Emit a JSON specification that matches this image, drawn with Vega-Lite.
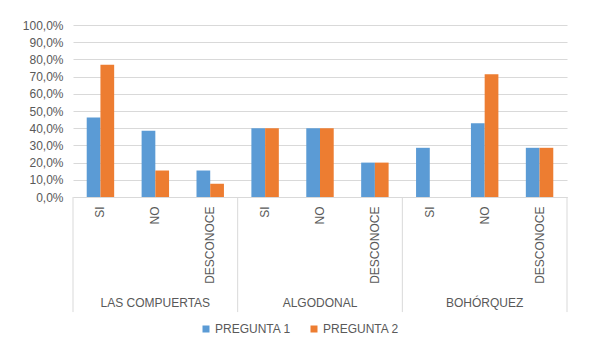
{
  "$schema": "https://vega.github.io/schema/vega-lite/v6.json",
  "width": 494,
  "height": 172,
  "autosize": {"type": "none"},
  "padding": {"left": 73, "top": 25, "right": 26, "bottom": 164},
  "background": "white",
  "config": {"view": {"stroke": null}, "font": "Liberation Sans"},
  "layer": [
    {
      "data": {"values": [
        {"group": "LAS COMPUERTAS", "cat": "LAS COMPUERTAS|SI", "serie": "PREGUNTA 1", "value": 0.462},
        {"group": "LAS COMPUERTAS", "cat": "LAS COMPUERTAS|SI", "serie": "PREGUNTA 2", "value": 0.769},
        {"group": "LAS COMPUERTAS", "cat": "LAS COMPUERTAS|NO", "serie": "PREGUNTA 1", "value": 0.385},
        {"group": "LAS COMPUERTAS", "cat": "LAS COMPUERTAS|NO", "serie": "PREGUNTA 2", "value": 0.154},
        {"group": "LAS COMPUERTAS", "cat": "LAS COMPUERTAS|DESCONOCE", "serie": "PREGUNTA 1", "value": 0.154},
        {"group": "LAS COMPUERTAS", "cat": "LAS COMPUERTAS|DESCONOCE", "serie": "PREGUNTA 2", "value": 0.077},
        {"group": "ALGODONAL", "cat": "ALGODONAL|SI", "serie": "PREGUNTA 1", "value": 0.4},
        {"group": "ALGODONAL", "cat": "ALGODONAL|SI", "serie": "PREGUNTA 2", "value": 0.4},
        {"group": "ALGODONAL", "cat": "ALGODONAL|NO", "serie": "PREGUNTA 1", "value": 0.4},
        {"group": "ALGODONAL", "cat": "ALGODONAL|NO", "serie": "PREGUNTA 2", "value": 0.4},
        {"group": "ALGODONAL", "cat": "ALGODONAL|DESCONOCE", "serie": "PREGUNTA 1", "value": 0.2},
        {"group": "ALGODONAL", "cat": "ALGODONAL|DESCONOCE", "serie": "PREGUNTA 2", "value": 0.2},
        {"group": "BOHÓRQUEZ", "cat": "BOHÓRQUEZ|SI", "serie": "PREGUNTA 1", "value": 0.286},
        {"group": "BOHÓRQUEZ", "cat": "BOHÓRQUEZ|SI", "serie": "PREGUNTA 2", "value": 0},
        {"group": "BOHÓRQUEZ", "cat": "BOHÓRQUEZ|NO", "serie": "PREGUNTA 1", "value": 0.429},
        {"group": "BOHÓRQUEZ", "cat": "BOHÓRQUEZ|NO", "serie": "PREGUNTA 2", "value": 0.714},
        {"group": "BOHÓRQUEZ", "cat": "BOHÓRQUEZ|DESCONOCE", "serie": "PREGUNTA 1", "value": 0.286},
        {"group": "BOHÓRQUEZ", "cat": "BOHÓRQUEZ|DESCONOCE", "serie": "PREGUNTA 2", "value": 0.286}
      ]},
      "mark": {"type": "bar"},
      "encoding": {
        "x": {
          "field": "cat", "type": "nominal", "sort": null,
          "scale": {"domain": ["LAS COMPUERTAS|SI", "LAS COMPUERTAS|NO", "LAS COMPUERTAS|DESCONOCE", "ALGODONAL|SI", "ALGODONAL|NO", "ALGODONAL|DESCONOCE", "BOHÓRQUEZ|SI", "BOHÓRQUEZ|NO", "BOHÓRQUEZ|DESCONOCE"], "paddingInner": 0, "paddingOuter": 0},
          "axis": {"labelExpr": "split(datum.label,'|')[1]", "labelAngle": 270, "labelAlign": "right", "labelBaseline": "middle", "labelPadding": 9, "ticks": false, "domainColor": "#d9d9d9", "labelColor": "#595959", "labelFontSize": 12, "title": null, "grid": false, "labelOverlap": false}
        },
        "xOffset": {"field": "serie", "type": "nominal", "scale": {"paddingInner": 0, "paddingOuter": 1.095}},
        "y": {
          "field": "value", "type": "quantitative",
          "scale": {"domain": [0, 1], "nice": false},
          "axis": {"values": [0, 0.1, 0.2, 0.3, 0.4, 0.5, 0.6, 0.7, 0.8, 0.9, 1], "labelExpr": "replace(format(datum.value,'.1%'),'.',',')", "domain": false, "ticks": false, "gridColor": "#d9d9d9", "labelColor": "#595959", "labelFontSize": 12, "labelPadding": 10, "title": null, "labelOverlap": false}
        },
        "color": {
          "field": "serie", "type": "nominal",
          "scale": {"range": ["#5B9BD5", "#ED7D31"]},
          "legend": {"orient": "none", "legendX": 127, "legendY": 298, "direction": "horizontal", "title": null, "symbolType": "square", "symbolSize": 49, "labelFontSize": 12, "labelColor": "#595959", "columnPadding": 17, "labelOffset": 3, "symbolStrokeWidth": 0}
        }
      }
    },
    {
      "data": {"values": [
        {"cat": "LAS COMPUERTAS|SI"},
        {"cat": "ALGODONAL|SI"},
        {"cat": "BOHÓRQUEZ|SI"}
      ]},
      "mark": {"type": "rule", "color": "#d9d9d9", "strokeWidth": 1},
      "encoding": {
        "x": {"field": "cat", "type": "nominal", "bandPosition": 0,
          "axis": {"labelExpr": "split(datum.label,'|')[1]", "labelAngle": 270, "labelAlign": "right", "labelBaseline": "middle", "labelPadding": 9, "ticks": false, "domainColor": "#d9d9d9", "labelColor": "#595959", "labelFontSize": 12, "title": null, "grid": false, "labelOverlap": false}},
        "y": {"datum": 0, "type": "quantitative", "scale": {"domain": [0, 1], "nice": false},
          "axis": {"values": [0, 0.1, 0.2, 0.3, 0.4, 0.5, 0.6, 0.7, 0.8, 0.9, 1], "labelExpr": "replace(format(datum.value,'.1%'),'.',',')", "domain": false, "ticks": false, "gridColor": "#d9d9d9", "labelColor": "#595959", "labelFontSize": 12, "labelPadding": 10, "title": null, "labelOverlap": false}},
        "y2": {"datum": -0.669}
      }
    },
    {
      "data": {"values": [
        {"cat": "BOHÓRQUEZ|DESCONOCE"}
      ]},
      "mark": {"type": "rule", "color": "#d9d9d9", "strokeWidth": 1},
      "encoding": {
        "x": {"field": "cat", "type": "nominal", "bandPosition": 1,
          "axis": {"labelExpr": "split(datum.label,'|')[1]", "labelAngle": 270, "labelAlign": "right", "labelBaseline": "middle", "labelPadding": 9, "ticks": false, "domainColor": "#d9d9d9", "labelColor": "#595959", "labelFontSize": 12, "title": null, "grid": false, "labelOverlap": false}},
        "y": {"datum": 0, "type": "quantitative", "scale": {"domain": [0, 1], "nice": false},
          "axis": {"values": [0, 0.1, 0.2, 0.3, 0.4, 0.5, 0.6, 0.7, 0.8, 0.9, 1], "labelExpr": "replace(format(datum.value,'.1%'),'.',',')", "domain": false, "ticks": false, "gridColor": "#d9d9d9", "labelColor": "#595959", "labelFontSize": 12, "labelPadding": 10, "title": null, "labelOverlap": false}},
        "y2": {"datum": -0.669}
      }
    },
    {
      "data": {"values": [
        {"group": "LAS COMPUERTAS", "cat": "LAS COMPUERTAS|NO"},
        {"group": "ALGODONAL", "cat": "ALGODONAL|NO"},
        {"group": "BOHÓRQUEZ", "cat": "BOHÓRQUEZ|NO"}
      ]},
      "mark": {"type": "text", "fontSize": 12, "color": "#595959", "baseline": "middle", "align": "center"},
      "encoding": {
        "x": {"field": "cat", "type": "nominal", "bandPosition": 0.5,
          "axis": {"labelExpr": "split(datum.label,'|')[1]", "labelAngle": 270, "labelAlign": "right", "labelBaseline": "middle", "labelPadding": 9, "ticks": false, "domainColor": "#d9d9d9", "labelColor": "#595959", "labelFontSize": 12, "title": null, "grid": false, "labelOverlap": false}},
        "y": {"datum": -0.616, "type": "quantitative", "scale": {"domain": [0, 1], "nice": false},
          "axis": {"values": [0, 0.1, 0.2, 0.3, 0.4, 0.5, 0.6, 0.7, 0.8, 0.9, 1], "labelExpr": "replace(format(datum.value,'.1%'),'.',',')", "domain": false, "ticks": false, "gridColor": "#d9d9d9", "labelColor": "#595959", "labelFontSize": 12, "labelPadding": 10, "title": null, "labelOverlap": false}},
        "text": {"field": "group"}
      }
    }
  ]
}
